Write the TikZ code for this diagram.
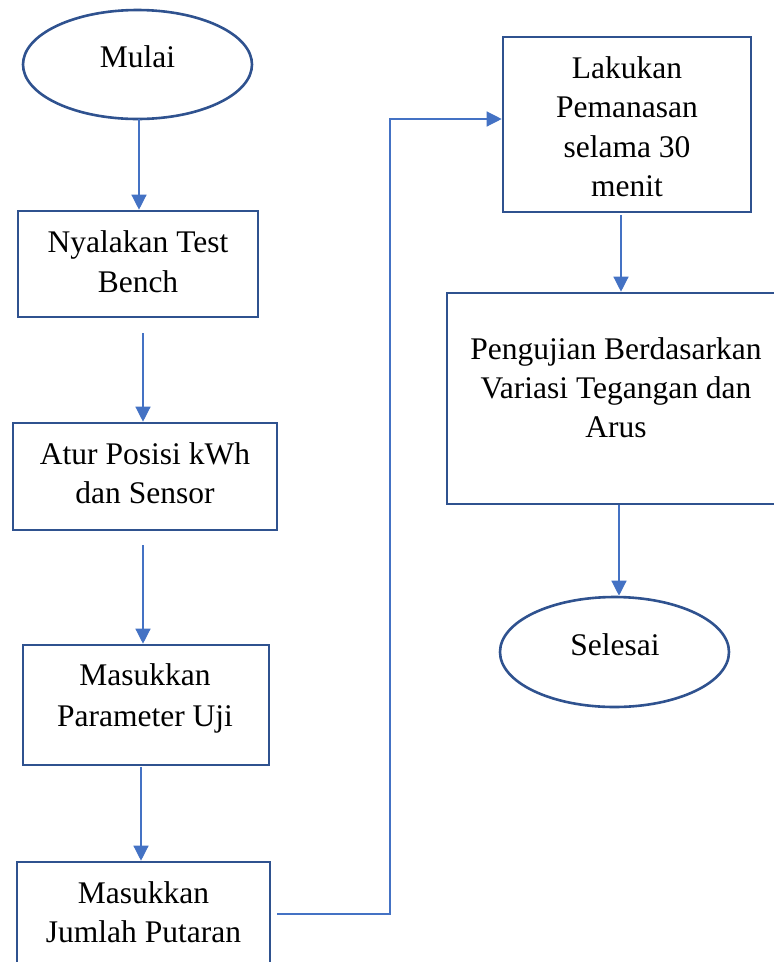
\documentclass[tikz,border=0pt]{standalone}
\usepackage{fontspec}
\setmainfont{Liberation Serif}
\usetikzlibrary{arrows.meta,shapes.geometric}
\definecolor{boxblue}{HTML}{2F528F}
\definecolor{lineblue}{HTML}{4472C4}
\tikzset{
  procbox/.style={draw=boxblue, line width=2.6pt, rectangle, inner sep=0pt},
  termnode/.style={draw=boxblue, line width=2.6pt, ellipse, inner sep=0pt},
  txt/.style={font=\fontsize{31.5}{39.5}\selectfont, inner sep=0pt, anchor=base, text=black},
  conn/.style={draw=lineblue, line width=1.3pt},
  connarrow/.style={conn, -{Triangle[length=15pt,width=15pt]}}
}
\begin{document}
\begin{tikzpicture}[x=1pt,y=-1pt]
\useasboundingbox (0,0) rectangle (774,962);
\clip (0,0) rectangle (774,962);
% shapes
\node[termnode, minimum width=229pt, minimum height=109pt] (mulai) at (137.5,64.5) {};
\node[procbox, minimum width=240pt, minimum height=106pt] (b1) at (138,264) {};
\node[procbox, minimum width=264pt, minimum height=107pt] (b2) at (145,476.5) {};
\node[procbox, minimum width=246pt, minimum height=120pt] (b3) at (146,705) {};
\node[procbox, minimum width=253pt, minimum height=120pt] (b4) at (143.5,922) {};
\node[procbox, minimum width=248pt, minimum height=175pt] (b5) at (627,124.5) {};
\node[procbox, minimum width=338pt, minimum height=211pt] (b6) at (616,398.5) {};
\node[termnode, minimum width=229pt, minimum height=110pt] (selesai) at (614.5,652) {};
% texts
\node[txt] (tmulai) at (137.5,67) {Mulai};
\node[txt] (t1a) at (138,252) {Nyalakan Test};
\node[txt] (t1b) at (138,292) {Bench};
\node[txt] (t2a) at (145,464) {Atur Posisi kWh};
\node[txt] (t2b) at (145,503) {dan Sensor};
\node[txt] (t3a) at (145,685) {Masukkan};
\node[txt] (t3b) at (145,726) {Parameter Uji};
\node[txt] (t4a) at (143.5,903) {Masukkan};
\node[txt] (t4b) at (143.5,942) {Jumlah Putaran};
\node[txt] (t5a) at (627,78) {Lakukan};
\node[txt] (t5b) at (627,117) {Pemanasan};
\node[txt] (t5c) at (627,157) {selama 30};
\node[txt] (t5d) at (627,196) {menit};
\node[txt] (t6a) at (616,359) {Pengujian Berdasarkan};
\node[txt] (t6b) at (616,398) {Variasi Tegangan dan};
\node[txt] (t6c) at (616,437) {Arus};
\node[txt] (tsel) at (615,655) {Selesai};
% connector free ends
\coordinate (s1) at (139,119);
\coordinate (s2) at (143,333);
\coordinate (s3) at (143,545);
\coordinate (s4) at (141,767);
\coordinate (c0) at (277,914);
\coordinate (c1) at (390,914);
\coordinate (c2) at (390,119);
\coordinate (s5) at (621,215);
\coordinate (s6) at (619,505);
% connectors
\draw[connarrow] (s1) -- (s1 |- b1.north);
\draw[connarrow] (s2) -- (s2 |- b2.north);
\draw[connarrow] (s3) -- (s3 |- b3.north);
\draw[connarrow] (s4) -- (s4 |- b4.north);
\draw[connarrow] (c0) -- (c1) -- (c2) -- (c2 -| b5.west);
\draw[connarrow] (s5) -- (s5 |- b6.north);
\draw[connarrow] (s6) -- (s6 |- selesai.north);
\end{tikzpicture}
\end{document}
